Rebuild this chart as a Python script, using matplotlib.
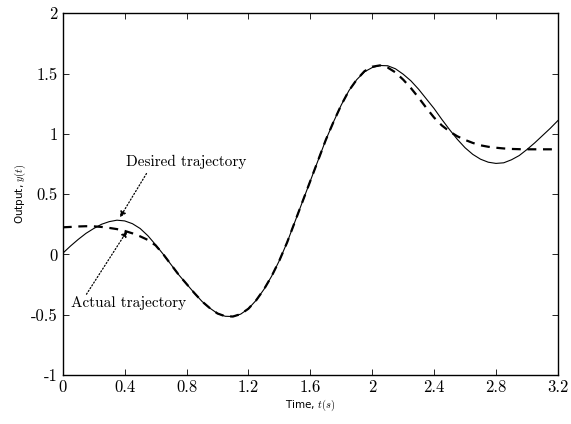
import matplotlib
matplotlib.use("Agg")
import matplotlib.pyplot as plt

# Time samples (s)
t = [0.00, 0.05, 0.10, 0.15, 0.20, 0.25, 0.30, 0.35, 0.40, 0.45, 0.50, 0.55,
     0.60, 0.65, 0.70, 0.75, 0.80, 0.85, 0.90, 0.95, 1.00, 1.05, 1.10, 1.15,
     1.20, 1.25, 1.30, 1.35, 1.40, 1.45, 1.50, 1.55, 1.60, 1.65, 1.70, 1.75,
     1.80, 1.85, 1.90, 1.95, 2.00, 2.05, 2.10, 2.15, 2.20, 2.25, 2.30, 2.35,
     2.40, 2.45, 2.50, 2.55, 2.60, 2.65, 2.70, 2.75, 2.80, 2.85, 2.90, 2.95,
     3.00, 3.05, 3.10, 3.15, 3.20]

# Desired trajectory (solid)
y_desired = [0.01, 0.07, 0.125, 0.175, 0.215, 0.25, 0.272, 0.284, 0.278, 0.255,
             0.215, 0.155, 0.08, 0.0, -0.085, -0.17, -0.245, -0.32, -0.39,
             -0.445, -0.49, -0.513, -0.515, -0.495, -0.45, -0.38, -0.29, -0.18,
             -0.05, 0.10, 0.27, 0.44, 0.61, 0.78, 0.95, 1.10, 1.24, 1.36, 1.45,
             1.515, 1.55, 1.567, 1.565, 1.54, 1.495, 1.44, 1.37, 1.29, 1.21,
             1.12, 1.035, 0.955, 0.885, 0.83, 0.79, 0.765, 0.755, 0.76, 0.785,
             0.82, 0.87, 0.925, 0.985, 1.045, 1.11]

# Actual trajectory (dashed)
y_actual = [0.225, 0.228, 0.232, 0.234, 0.233, 0.228, 0.22, 0.21, 0.195, 0.175,
            0.15, 0.12, 0.075, 0.0, -0.085, -0.17, -0.245, -0.32, -0.39,
            -0.445, -0.49, -0.513, -0.515, -0.495, -0.45, -0.38, -0.29, -0.18,
            -0.05, 0.10, 0.27, 0.44, 0.61, 0.78, 0.95, 1.10, 1.24, 1.36, 1.45,
            1.52, 1.557, 1.568, 1.55, 1.51, 1.45, 1.38, 1.30, 1.215, 1.135,
            1.07, 1.02, 0.98, 0.95, 0.925, 0.905, 0.893, 0.885, 0.879, 0.875,
            0.873, 0.872, 0.872, 0.872, 0.872, 0.872]

xticks = [0, 0.4, 0.8, 1.2, 1.6, 2.0, 2.4, 2.8, 3.2]
xtick_labels = ["0", "0.4", "0.8", "1.2", "1.6", "2", "2.4", "2.8", "3.2"]
yticks = [-1, -0.5, 0, 0.5, 1, 1.5, 2]
ytick_labels = ["-1", "-0.5", "0", "0.5", "1", "1.5", "2"]

plt.rcParams['mathtext.fontset'] = 'cm'

fig = plt.figure(figsize=(5.71, 4.24), dpi=100)
ax = fig.add_axes([0.110, 0.1156, 0.867, 0.853])

ax.plot(t, y_desired, color='black', lw=0.8, solid_joinstyle='round')
ax.plot(t, y_actual, color='black', lw=1.6, linestyle=(0, (4, 3)))

ax.set_xlim(0, 3.2)
ax.set_ylim(-1, 2)
ax.set_xticks(xticks)
ax.set_xticklabels(xtick_labels, family='cmr10', fontsize=12)
ax.set_yticks(yticks)
ax.set_yticklabels(ytick_labels, family='cmr10', fontsize=12)
ax.tick_params(direction='in', top=True, right=True, length=4, width=0.6)
for s in ax.spines.values():
    s.set_linewidth(1.0)

ax.set_xlabel(r"Time, $t(s)$", fontsize=7.5, family='DejaVu Sans', labelpad=2)
ax.set_ylabel(r"Output, $y(t)$", fontsize=7.5, family='DejaVu Sans', labelpad=2)

ax.text(0.80, 0.765, "Desired trajectory", ha='center', va='center',
        family='cmr10', fontsize=11)
ax.text(0.427, -0.40, "Actual trajectory", ha='center', va='center',
        family='cmr10', fontsize=11)

arrow_kw = dict(arrowstyle='-|>', linestyle=':', color='black', lw=0.9,
                shrinkA=0, shrinkB=0, mutation_scale=9)
ax.annotate("", xy=(0.369, 0.307), xytext=(0.541, 0.671), arrowprops=arrow_kw)
ax.annotate("", xy=(0.416, 0.196), xytext=(0.153, -0.33), arrowprops=arrow_kw)

fig.savefig("out.png", dpi=100)
